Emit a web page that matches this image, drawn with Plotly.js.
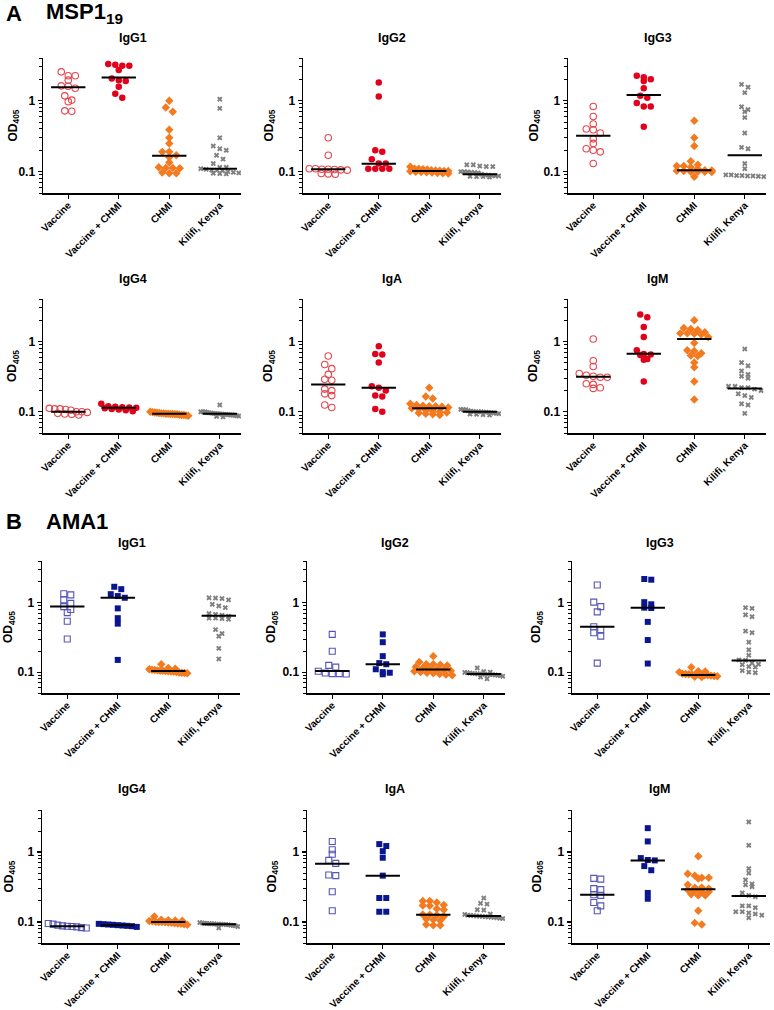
<!DOCTYPE html>
<html><head><meta charset="utf-8">
<script src="https://cdn.plot.ly/plotly-3.0.1.min.js"></script>
<style>body{margin:0;background:#fff}#chart{width:774px;height:1010px}</style>
</head><body><div id="chart"></div>
<script>
// ---------- categories & labels ----------
const categories = ['Vaccine', 'Vaccine + CHMI', 'CHMI', 'Kilifi, Kenya'];
const isotypes = ['IgG1', 'IgG2', 'IgG3', 'IgG4', 'IgA', 'IgM'];
const antigenNames = ['MSP1<sub>19</sub>', 'AMA1'];
const sectionLetters = ['A', 'B'];
const yTickVals = [0.1, 1];
const yTickText = ['0.1', '1'];
const yMinorVals = [0.05, 0.06, 0.07, 0.08, 0.09, 0.2, 0.3, 0.4, 0.5, 0.6, 0.7, 0.8, 0.9, 2, 3, 4];

// ---------- MSP1-19 (groups: Vaccine, Vaccine + CHMI, CHMI, Kilifi) ----------
const msp1_IgG1 = [
  [2.55, 2.25, 2.25, 1.95, 1.62, 1.6, 1.5, 1.17, 1.02, 0.97, 0.71, 0.72],
  [3.3, 3.1, 3.1, 3.2, 2.7, 2.05, 1.95, 1.9, 1.57, 1.25, 1.1],
  [1.0, 0.8, 0.7, 0.39, 0.3, 0.25, 0.19, 0.19, 0.17, 0.16, 0.135, 0.115, 0.113, 0.113, 0.112, 0.097, 0.095, 0.095],
  [1.05, 0.78, 0.3, 0.23, 0.21, 0.2, 0.17, 0.15, 0.13, 0.115, 0.115, 0.11, 0.108, 0.105, 0.105, 0.103, 0.1, 0.098, 0.096, 0.095, 0.094, 0.093]
];
const msp1_IgG1_median = [1.55, 2.12, 0.167, 0.11];

const msp1_IgG2 = [
  [0.3, 0.17, 0.11, 0.11, 0.108, 0.108, 0.107, 0.106, 0.105, 0.094, 0.093, 0.092],
  [1.8, 1.15, 0.2, 0.19, 0.15, 0.13, 0.13, 0.11, 0.11, 0.11, 0.11],
  [0.117, 0.11, 0.11, 0.108, 0.107, 0.105, 0.104, 0.103, 0.102, 0.102, 0.101, 0.1, 0.099, 0.098, 0.097, 0.096, 0.095, 0.094],
  [0.125, 0.125, 0.12, 0.118, 0.118, 0.1, 0.1, 0.099, 0.098, 0.097, 0.096, 0.092, 0.09, 0.089, 0.088, 0.087, 0.087, 0.086, 0.085, 0.085, 0.084]
];
const msp1_IgG2_median = [0.108, 0.129, 0.102, 0.092];

const msp1_IgG3 = [
  [0.83, 0.6, 0.47, 0.4, 0.39, 0.35, 0.29, 0.25, 0.21, 0.2, 0.19, 0.13],
  [2.25, 2.15, 2.0, 1.9, 1.5, 1.17, 1.1, 0.93, 0.83, 0.83, 0.43],
  [0.52, 0.3, 0.23, 0.14, 0.125, 0.12, 0.12, 0.115, 0.11, 0.105, 0.104, 0.103, 0.102, 0.1, 0.1, 0.1, 0.099, 0.085],
  [1.7, 1.55, 1.3, 0.82, 0.75, 0.7, 0.58, 0.35, 0.22, 0.21, 0.13, 0.11, 0.09, 0.09, 0.088, 0.088, 0.087, 0.087, 0.086, 0.085]
];
const msp1_IgG3_median = [0.32, 1.2, 0.105, 0.17];

const msp1_IgG4 = [
  [0.112, 0.11, 0.11, 0.108, 0.105, 0.1, 0.1, 0.098, 0.095, 0.093, 0.092, 0.09],
  [0.13, 0.12, 0.118, 0.116, 0.115, 0.114, 0.112, 0.11, 0.108, 0.105, 0.102],
  [0.1, 0.099, 0.098, 0.097, 0.096, 0.095, 0.095, 0.094, 0.094, 0.093, 0.093, 0.092, 0.092, 0.091, 0.09, 0.09, 0.089, 0.088],
  [0.125, 0.1, 0.1, 0.1, 0.098, 0.097, 0.096, 0.095, 0.094, 0.094, 0.093, 0.093, 0.092, 0.092, 0.091, 0.09, 0.09, 0.089, 0.088, 0.087, 0.086, 0.085]
];
const msp1_IgG4_median = [0.1, 0.114, 0.094, 0.094];

const msp1_IgA = [
  [0.62, 0.47, 0.41, 0.34, 0.29, 0.28, 0.21, 0.2, 0.18, 0.17, 0.125, 0.115],
  [0.85, 0.66, 0.65, 0.5, 0.23, 0.22, 0.2, 0.17, 0.165, 0.11, 0.1],
  [0.22, 0.165, 0.155, 0.13, 0.125, 0.122, 0.12, 0.12, 0.118, 0.115, 0.112, 0.11, 0.105, 0.102, 0.1, 0.098, 0.096, 0.094, 0.092, 0.09],
  [0.108, 0.108, 0.107, 0.104, 0.102, 0.101, 0.1, 0.1, 0.1, 0.099, 0.099, 0.098, 0.097, 0.096, 0.095, 0.094, 0.093, 0.092, 0.091, 0.09]
];
const msp1_IgA_median = [0.245, 0.22, 0.112, 0.1];

const msp1_IgM = [
  [1.08, 0.53, 0.44, 0.35, 0.33, 0.32, 0.31, 0.31, 0.25, 0.245, 0.22, 0.215],
  [2.4, 2.2, 1.6, 1.15, 0.75, 0.66, 0.65, 0.64, 0.56, 0.55, 0.27],
  [2.0, 1.55, 1.5, 1.45, 1.35, 1.3, 1.3, 1.28, 1.25, 1.15, 0.95, 0.75, 0.73, 0.68, 0.63, 0.62, 0.5, 0.43, 0.27, 0.15],
  [0.78, 0.5, 0.45, 0.38, 0.34, 0.32, 0.3, 0.23, 0.23, 0.22, 0.22, 0.21, 0.2, 0.18, 0.17, 0.16, 0.13, 0.125, 0.095]
];
const msp1_IgM_median = [0.315, 0.67, 1.08, 0.215];

// ---------- AMA1 ----------
const ama1_IgG1 = [
  [1.35, 1.3, 1.1, 0.98, 0.88, 0.8, 0.72, 0.54, 0.3],
  [1.7, 1.57, 1.33, 1.25, 1.18, 0.83, 0.6, 0.5, 0.15],
  [0.13, 0.115, 0.112, 0.11, 0.108, 0.107, 0.106, 0.105, 0.105, 0.104, 0.103, 0.102, 0.101, 0.1, 0.099, 0.098, 0.097, 0.096],
  [1.18, 1.17, 1.15, 1.1, 0.95, 0.9, 0.85, 0.7, 0.68, 0.66, 0.64, 0.6, 0.6, 0.59, 0.58, 0.41, 0.36, 0.33, 0.22, 0.155]
];
const ama1_IgG1_median = [0.88, 1.18, 0.104, 0.65];

const ama1_IgG2 = [
  [0.35, 0.2, 0.125, 0.118, 0.103, 0.097, 0.095, 0.095, 0.094],
  [0.35, 0.27, 0.17, 0.135, 0.13, 0.11, 0.1, 0.098, 0.093],
  [0.17, 0.14, 0.13, 0.13, 0.128, 0.125, 0.12, 0.115, 0.112, 0.11, 0.108, 0.105, 0.103, 0.1, 0.098, 0.096, 0.094, 0.092, 0.09],
  [0.115, 0.102, 0.1, 0.099, 0.098, 0.097, 0.096, 0.095, 0.095, 0.094, 0.094, 0.093, 0.093, 0.092, 0.092, 0.091, 0.09, 0.089, 0.087, 0.085, 0.08]
];
const ama1_IgG2_median = [0.104, 0.13, 0.109, 0.094];

const ama1_IgG3 = [
  [1.8, 1.02, 0.88, 0.74, 0.45, 0.41, 0.37, 0.33, 0.135],
  [2.2, 2.15, 1.02, 0.95, 0.85, 0.84, 0.53, 0.29, 0.133],
  [0.118, 0.103, 0.102, 0.1, 0.095, 0.094, 0.093, 0.093, 0.092, 0.092, 0.091, 0.09, 0.09, 0.089, 0.088, 0.087, 0.086, 0.085],
  [0.85, 0.83, 0.67, 0.63, 0.39, 0.37, 0.27, 0.21, 0.175, 0.15, 0.148, 0.135, 0.13, 0.128, 0.12, 0.118, 0.105, 0.1, 0.098]
];
const ama1_IgG3_median = [0.45, 0.85, 0.091, 0.147];

const ama1_IgG4 = [
  [0.095, 0.093, 0.09, 0.088, 0.087, 0.086, 0.085, 0.083, 0.082],
  [0.094, 0.093, 0.092, 0.091, 0.09, 0.089, 0.088, 0.087, 0.085],
  [0.12, 0.108, 0.106, 0.105, 0.104, 0.103, 0.102, 0.101, 0.1, 0.1, 0.099, 0.098, 0.097, 0.096, 0.095, 0.094, 0.093, 0.091],
  [0.098, 0.097, 0.096, 0.095, 0.095, 0.094, 0.094, 0.093, 0.093, 0.093, 0.092, 0.092, 0.091, 0.09, 0.089, 0.088, 0.086, 0.082]
];
const ama1_IgG4_median = [0.087, 0.09, 0.1, 0.093];

const ama1_IgA = [
  [1.42, 1.08, 0.93, 0.76, 0.69, 0.47, 0.46, 0.27, 0.145],
  [1.3, 1.22, 1.03, 0.83, 0.46, 0.22, 0.22, 0.14, 0.14],
  [0.2, 0.2, 0.19, 0.175, 0.172, 0.17, 0.155, 0.15, 0.128, 0.127, 0.125, 0.12, 0.11, 0.108, 0.105, 0.092, 0.09, 0.09],
  [0.22, 0.185, 0.18, 0.15, 0.148, 0.13, 0.128, 0.125, 0.124, 0.123, 0.122, 0.121, 0.12, 0.119, 0.118, 0.117, 0.116, 0.115, 0.113, 0.112]
];
const ama1_IgA_median = [0.68, 0.46, 0.127, 0.122];

const ama1_IgM = [
  [0.42, 0.41, 0.3, 0.29, 0.245, 0.24, 0.19, 0.17, 0.145],
  [2.2, 1.42, 0.82, 0.77, 0.76, 0.63, 0.55, 0.26, 0.215],
  [0.87, 0.49, 0.46, 0.43, 0.43, 0.42, 0.34, 0.31, 0.31, 0.3, 0.29, 0.28, 0.27, 0.27, 0.25, 0.24, 0.24, 0.145, 0.097, 0.092],
  [2.7, 1.25, 0.58, 0.5, 0.4, 0.35, 0.34, 0.32, 0.26, 0.24, 0.23, 0.17, 0.17, 0.16, 0.14, 0.14, 0.135, 0.13, 0.125, 0.115]
];
const ama1_IgM_median = [0.245, 0.76, 0.295, 0.235];

// ---------- assembly ----------
const panelData = [
  [msp1_IgG1, msp1_IgG1_median], [msp1_IgG2, msp1_IgG2_median], [msp1_IgG3, msp1_IgG3_median],
  [msp1_IgG4, msp1_IgG4_median], [msp1_IgA, msp1_IgA_median], [msp1_IgM, msp1_IgM_median],
  [ama1_IgG1, ama1_IgG1_median], [ama1_IgG2, ama1_IgG2_median], [ama1_IgG3, ama1_IgG3_median],
  [ama1_IgG4, ama1_IgG4_median], [ama1_IgA, ama1_IgA_median], [ama1_IgM, ama1_IgM_median]
];

const W = 774, H = 1010;
const rowTop = [58, 299, 561, 810];
const rowBot = [193, 433, 693, 943];
const colX0 = [[43, 303, 568], [42, 307, 572]];
const plotW = 198;
const xRange = [-0.5, 3.42];
const yRange = [Math.log10(0.05), Math.log10(4)];
const titleX = [[133, 392, 658], [132, 395, 660]];
const titleY = [38, 279, 543, 789];
const yTitleX = [[13, 269, 534], [9, 272, 537]];

const FONT = 'Arial, "Liberation Sans", Helvetica, sans-serif';

const groupStyles = [
  [ // MSP1
    {symbol: 'circle-open', color: '#e5474f', size: 6.5, lw: 1.1},
    {symbol: 'circle', color: '#e3001b', size: 6.5, lw: 0},
    {symbol: 'diamond', color: '#f47a1f', size: 6.5, lw: 0},
    {symbol: 'x', color: '#808080', size: 4.8, lw: 0}
  ],
  [ // AMA1
    {symbol: 'square-open', color: '#5656b8', size: 6, lw: 1.1},
    {symbol: 'square', color: '#0a168f', size: 6, lw: 0},
    {symbol: 'diamond', color: '#f47a1f', size: 6.5, lw: 0},
    {symbol: 'x', color: '#808080', size: 4.8, lw: 0}
  ]
];

function swarmX(vals, center, hPx, ppu, stepPx, maxHalfPx, binPx) {
  const py = vals.map(v => (Math.log10(v) - yRange[0]) / (yRange[1] - yRange[0]) * hPx);
  const order = py.map((p, i) => i).sort((a, b) => py[b] - py[a]);
  const off = new Array(vals.length).fill(0);
  let bin = [], start = null;
  const flush = () => {
    const n = bin.length;
    let s = stepPx;
    if (n > 1 && (n - 1) * s / 2 > maxHalfPx) s = 2 * maxHalfPx / (n - 1);
    bin.forEach((j, k) => { off[j] = (k - (n - 1) / 2) * s / ppu; });
    bin = [];
  };
  order.forEach(j => {
    if (start === null || start - py[j] > binPx) { if (bin.length) flush(); start = py[j]; }
    bin.push(j);
  });
  if (bin.length) flush();
  return vals.map((v, i) => center + off[i]);
}

const traces = [];
const annotations = [];
const layout = {
  width: W, height: H,
  margin: {l: 0, r: 0, t: 0, b: 0},
  showlegend: false,
  paper_bgcolor: '#ffffff', plot_bgcolor: '#ffffff',
  font: {family: FONT, color: '#000'}
};

panelData.forEach((pd, k) => {
  const sec = Math.floor(k / 6);
  const row = Math.floor(k / 3);
  const col = k % 3;
  const iso = isotypes[k % 6];
  const idx = k + 1;
  const xa = 'x' + (idx === 1 ? '' : idx), ya = 'y' + (idx === 1 ? '' : idx);
  const x0 = colX0[sec][col], x1 = x0 + plotW;
  const hPx = rowBot[row] - rowTop[row];
  const ppu = plotW / (xRange[1] - xRange[0]);
  const [groups, medians] = pd;

  groups.forEach((vals, g) => {
    const st = groupStyles[sec][g];
    traces.push({
      type: 'scatter', mode: 'markers', xaxis: xa, yaxis: ya,
      x: swarmX(vals, g, hPx, ppu, g === 3 ? 6.5 : 7, 19, 4.5),
      y: vals,
      marker: {symbol: st.symbol, color: st.color, size: st.size,
               line: {width: st.lw, color: st.color}},
      hoverinfo: 'skip'
    });
  });
  medians.forEach((m, g) => {
    traces.push({
      type: 'scatter', mode: 'lines', xaxis: xa, yaxis: ya,
      x: [g - 0.34, g + 0.34], y: [m, m],
      line: {color: '#000', width: 2}, hoverinfo: 'skip'
    });
  });

  layout['xaxis' + (idx === 1 ? '' : idx)] = {
    domain: [x0 / W, x1 / W], anchor: ya, range: xRange,
    tickmode: 'array', tickvals: [0, 1, 2, 3],
    ticktext: categories.map(c => '<b>' + c + '</b>'),
    tickangle: -45, ticks: 'outside', ticklen: 4, tickwidth: 1.2, tickcolor: '#000',
    ticklabelstandoff: -3,
    tickfont: {size: 10, family: FONT, color: '#000'},
    showline: true, linewidth: 1.5, linecolor: '#000',
    showgrid: false, zeroline: false, fixedrange: true
  };
  layout['yaxis' + (idx === 1 ? '' : idx)] = {
    domain: [1 - rowBot[row] / H, 1 - rowTop[row] / H], anchor: xa,
    type: 'log', range: yRange,
    tickmode: 'array', tickvals: yTickVals, ticktext: yTickText.map(t => '<b>' + t + '</b>'),
    ticks: 'outside', ticklen: 4, tickwidth: 1.2, tickcolor: '#000',
    tickfont: {size: 12, family: FONT, color: '#000'},
    minor: {tickmode: 'array', tickvals: yMinorVals, ticks: 'outside', ticklen: 2.5,
            tickwidth: 1, tickcolor: '#000', showgrid: false},
    showline: true, linewidth: 1.5, linecolor: '#000',
    showgrid: false, zeroline: false, fixedrange: true
  };

  annotations.push({
    xref: 'paper', yref: 'paper', x: titleX[sec][col] / W, y: 1 - titleY[row] / H,
    xanchor: 'center', yanchor: 'middle', showarrow: false,
    text: '<b>' + iso + '</b>', font: {size: 12.5, family: FONT, color: '#000'}
  });
  annotations.push({
    xref: 'paper', yref: 'paper', x: yTitleX[sec][col] / W,
    y: 1 - (rowTop[row] + rowBot[row]) / 2 / H,
    xanchor: 'center', yanchor: 'middle', showarrow: false, textangle: -90,
    text: '<b>OD<sub>405</sub></b>', font: {size: 12, family: FONT, color: '#000'}
  });
});

// section headers
const sectionY = [13, 521];
sectionLetters.forEach((L, s) => {
  annotations.push({
    xref: 'paper', yref: 'paper', x: 4 / W, y: 1 - sectionY[s] / H,
    xanchor: 'left', yanchor: 'middle', showarrow: false,
    text: '<b>' + L + '</b>', font: {size: 22, family: FONT, color: '#000'}
  });
  annotations.push({
    xref: 'paper', yref: 'paper', x: 44 / W, y: 1 - sectionY[s] / H,
    xanchor: 'left', yanchor: 'middle', showarrow: false,
    text: '<b>' + antigenNames[s] + '</b>', font: {size: 22, family: FONT, color: '#000'}
  });
});
layout.annotations = annotations;

Plotly.newPlot('chart', traces, layout, {staticPlot: true, displayModeBar: false});
</script>
</body></html>
